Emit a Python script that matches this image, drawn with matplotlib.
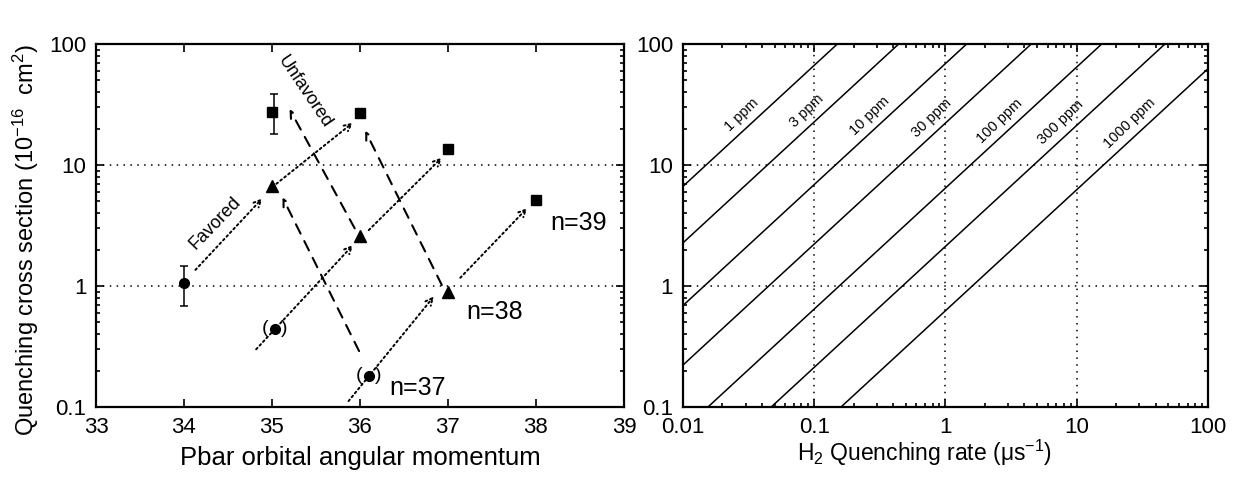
import numpy as np
import matplotlib
matplotlib.use('Agg')
import matplotlib.pyplot as plt
from matplotlib.ticker import LogLocator, NullFormatter

plt.rcParams['font.family'] = ['Liberation Sans', 'DejaVu Sans']
plt.rcParams['mathtext.fontset'] = 'custom'
plt.rcParams['mathtext.rm'] = 'Liberation Sans'
plt.rcParams['mathtext.it'] = 'Liberation Sans:italic'
plt.rcParams['mathtext.default'] = 'regular'

# ---- left panel: quenching cross section vs. l ----
l_sq = [35, 36, 37, 38]
sig_sq = [27.4, 27.1, 13.7, 5.15]
l_tri = [35, 36, 37]
sig_tri = [6.7, 2.58, 0.89]
l_circ = [34]
sig_circ = [1.06]
l_circ_p = [35.03, 36.1]          # points shown in brackets
sig_circ_p = [0.44, 0.18]
l_err = [34, 35.02]
sig_err_mid = [1.06, 27.4]
sig_err_lo = [0.685, 18.0]
sig_err_hi = [1.46, 38.8]

# favored (dotted) and unfavored (dashed) transitions, (l, sigma)
fav_from = [(34.13, 1.36), (35.05, 7.0), (34.82, 0.30), (36.1, 2.9), (35.87, 0.112), (37.14, 1.17)]
fav_to = [(34.89, 5.3), (35.92, 22.4), (35.92, 2.18), (36.93, 11.5), (36.84, 0.82), (37.9, 4.4)]
unfav_from = [(35.99, 0.29), (35.94, 3.0), (36.93, 1.02)]
unfav_to = [(35.12, 5.4), (35.2, 29.0), (36.06, 19.2)]

n_labels = ['n=37', 'n=38', 'n=39']
n_pos = [(36.66, 0.144), (37.53, 0.61), (38.49, 3.32)]

# ---- right panel: rate lines for H2 concentrations ----
ppm = [1, 3, 10, 30, 100, 300, 1000]
rate_at_sigma1 = [0.0015, 0.0044, 0.0145, 0.045, 0.155, 0.47, 1.6]
label_sigma = [22, 23.5, 21.5, 20.5, 19.5, 19, 18.5]
sigma_span = np.array([0.1, 100.0])

dot_grid = (0, (1, 3.5))

fig = plt.figure(figsize=(12.37, 4.84), dpi=100)
ax1 = fig.add_axes([0.0776, 0.159, 0.4268, 0.75])
ax2 = fig.add_axes([0.5521, 0.159, 0.4244, 0.75])

for ax in (ax1, ax2):
    ax.set_yscale('log')
    ax.set_ylim(0.1, 100)
    ax.set_yticks([0.1, 1, 10, 100])
    ax.set_yticklabels(['0.1', '1', '10', '100'])
    ax.yaxis.set_minor_locator(LogLocator(base=10, subs=np.arange(2, 10)))
    ax.yaxis.set_minor_formatter(NullFormatter())
    ax.tick_params(which='both', direction='in', top=True, right=True,
                   labelsize=16, pad=7, width=1.2)
    ax.tick_params(which='major', length=6)
    ax.tick_params(which='minor', length=3)
    for sp in ax.spines.values():
        sp.set_linewidth(1.6)
    ax.yaxis.grid(True, which='major', linestyle=dot_grid, color='k', lw=1.1)

# left
ax1.set_xlim(33, 39)
ax1.set_xticks(range(33, 40))
ax1.errorbar(l_err, sig_err_mid,
             yerr=[np.array(sig_err_mid) - np.array(sig_err_lo),
                   np.array(sig_err_hi) - np.array(sig_err_mid)],
             fmt='none', ecolor='k', elinewidth=1.1, capsize=3, capthick=1.1)
ax1.plot(l_sq, sig_sq, 's', color='k', ms=7, ls='none')
ax1.plot(l_tri, sig_tri, '^', color='k', ms=8.5, ls='none')
ax1.plot(l_circ + l_circ_p, sig_circ + sig_circ_p, 'o', color='k', ms=7, ls='none')
for x, y in zip(l_circ_p, sig_circ_p):
    ax1.annotate('(', (x, y), xytext=(-7, 0.5), textcoords='offset points',
                 ha='center', va='center', fontsize=14)
    ax1.annotate(')', (x, y), xytext=(7, 0.5), textcoords='offset points',
                 ha='center', va='center', fontsize=14)

for a, b in zip(fav_from, fav_to):
    ax1.annotate('', xy=b, xytext=a,
                 arrowprops=dict(arrowstyle='->,head_length=0.5,head_width=0.25',
                                 linestyle=(0, (1, 1.6)), lw=1.4, color='k',
                                 shrinkA=0, shrinkB=0))
for a, b in zip(unfav_from, unfav_to):
    ax1.annotate('', xy=b, xytext=a,
                 arrowprops=dict(arrowstyle='->,head_length=0.5,head_width=0.25',
                                 linestyle=(0, (5, 4)), lw=1.5, color='k',
                                 shrinkA=0, shrinkB=0))

ax1.text(34.35, 3.3, 'Favored', rotation=46, fontsize=13, ha='center', va='center')
ax1.text(35.37, 40, 'Unfavored', rotation=-56, fontsize=13, ha='center', va='center')
for t, (x, y) in zip(n_labels, n_pos):
    ax1.text(x, y, t, fontsize=18, ha='center', va='center')

ax1.set_xlabel('Pbar orbital angular momentum', fontsize=18.5, labelpad=6)
ax1.set_ylabel('Quenching cross section (10$^{-16}$  cm$^2$)', fontsize=17)
ax1.yaxis.set_label_coords(-0.105, 0.46)

# right
ax2.set_xscale('log')
ax2.set_xlim(0.01, 100)
ax2.set_xticks([0.01, 0.1, 1, 10, 100])
ax2.set_xticklabels(['0.01', '0.1', '1', '10', '100'])
ax2.xaxis.set_minor_locator(LogLocator(base=10, subs=np.arange(2, 10)))
ax2.xaxis.set_minor_formatter(NullFormatter())
ax2.xaxis.grid(True, which='major', linestyle=dot_grid, color='k', lw=1.1)

for p, r, s in zip(ppm, rate_at_sigma1, label_sigma):
    ax2.plot(r * sigma_span, sigma_span, color='k', lw=1.1)
    ax2.annotate(f'{p} ppm', (r * s, s), xytext=(-6.5, 6.5), textcoords='offset points',
                 rotation=44, rotation_mode='anchor', ha='center', va='center',
                 fontsize=10.5)

ax2.set_xlabel('H$_2$ Quenching rate (μs$^{-1}$)', fontsize=16.5)
ax2.xaxis.set_label_coords(0.46, -0.085)

fig.savefig('out.png', dpi=100)
